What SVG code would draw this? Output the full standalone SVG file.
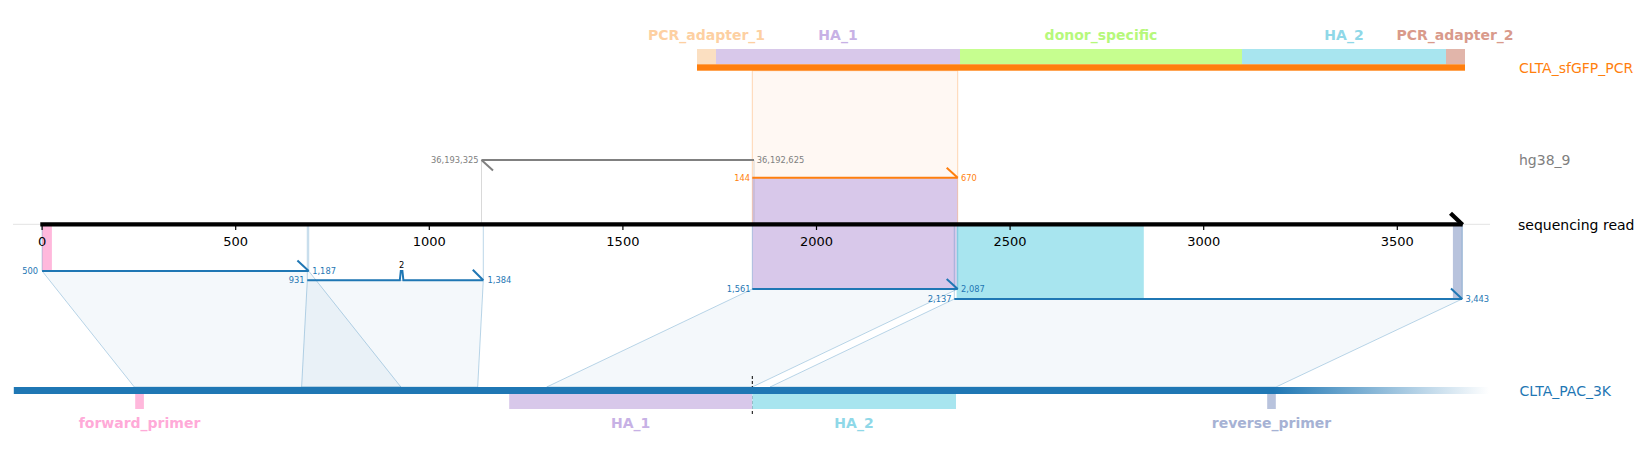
<svg xmlns="http://www.w3.org/2000/svg" width="1644" height="459" viewBox="0 0 1644 459">
<style>
text{font-family:"DejaVu Sans","Liberation Sans",sans-serif}
.lab{font-size:14px}
.feat{font-size:14px;font-weight:bold;text-anchor:middle}
.sm{font-size:8.3px}
.tick{font-size:13px;text-anchor:middle}
.end{text-anchor:end}
.blue{fill:#1f77b4}
.gray{fill:#808080}
.orange{fill:#ff7f0e}
.aln{fill:none;stroke-width:2}
.vb{stroke:#1f77b4;stroke-opacity:0.3;stroke-width:1}
.poly{fill:#1f77b4;fill-opacity:0.05;stroke:#1f77b4;stroke-opacity:0.3;stroke-width:1}
</style>
<defs>
<linearGradient id="fade" gradientUnits="userSpaceOnUse" x1="13.8" y1="0" x2="1489" y2="0">
<stop offset="0" stop-color="#1f77b4" stop-opacity="1"/>
<stop offset="0.854" stop-color="#1f77b4" stop-opacity="1"/>
<stop offset="1" stop-color="#1f77b4" stop-opacity="0"/>
</linearGradient>
</defs>
<rect width="1644" height="459" fill="#ffffff"/>

<!-- feature shading on read -->
<g id="read-features">
<rect x="752.3" y="70.7" width="205.4" height="107" fill="#ff7f0e" fill-opacity="0.05" stroke="#ff7f0e" stroke-opacity="0.3" stroke-width="1"/>
<rect x="752.3" y="177.7" width="205.4" height="111.3" fill="#d8c8ea"/>
<rect x="956.6" y="224" width="187.2" height="75" fill="#a8e5ef"/>
<rect x="42.1" y="224" width="9.8" height="47" fill="#ffb8dc"/>
<rect x="1452.9" y="224" width="9.7" height="75" fill="#b8c3dd"/>
</g>

<!-- connectors -->
<g id="connectors">
<polygon class="poly" points="42.1,271 308.7,271 400.9,387 134.3,387"/>
<polygon class="poly" points="307.3,280.3 483.3,280.3 477.7,387 301.6,387"/>
<polygon class="poly" points="752.3,289 957.7,289 752.3,387 546.7,387"/>
<polygon class="poly" points="954.3,299 1462.2,299 1276,387 770,387"/>
<line class="vb" x1="42.1" y1="224" x2="42.1" y2="271"/>
<line class="vb" x1="308.7" y1="224" x2="308.7" y2="271"/>
<line class="vb" x1="307.3" y1="224" x2="307.3" y2="280.3"/>
<line class="vb" x1="483.3" y1="224" x2="483.3" y2="280.3"/>
<line class="vb" x1="752.3" y1="224" x2="752.3" y2="289"/>
<line class="vb" x1="957.7" y1="224" x2="957.7" y2="289"/>
<line class="vb" x1="954.3" y1="224" x2="954.3" y2="299"/>
<line class="vb" x1="1462.2" y1="224" x2="1462.2" y2="299"/>
<line x1="481.5" y1="160" x2="481.5" y2="224" stroke="#808080" stroke-opacity="0.3" stroke-width="1"/>
<line x1="754" y1="160" x2="754" y2="224" stroke="#808080" stroke-opacity="0.3" stroke-width="1"/>
<line x1="752.3" y1="177.7" x2="752.3" y2="224" stroke="#ff7f0e" stroke-opacity="0.3" stroke-width="1"/>
<line x1="957.7" y1="177.7" x2="957.7" y2="224" stroke="#ff7f0e" stroke-opacity="0.3" stroke-width="1"/>
<line x1="752.3" y1="376" x2="752.3" y2="414" stroke="#000" stroke-width="1" stroke-dasharray="3,2"/>
</g>

<!-- sequencing read axis -->
<g id="sequencing-read">
<line x1="13" y1="224.3" x2="1490" y2="224.3" stroke="#e3e3e3" stroke-width="1"/>
<line x1="40.3" y1="224.3" x2="1462.6" y2="224.3" stroke="#000" stroke-width="4.3"/>
<line x1="1450.5" y1="213.2" x2="1462.6" y2="224.8" stroke="#000" stroke-width="4.3"/>
<g stroke="#000" stroke-width="1.2">
<line x1="42.1" y1="224" x2="42.1" y2="230"/>
<line x1="235.7" y1="224" x2="235.7" y2="230"/>
<line x1="429.3" y1="224" x2="429.3" y2="230"/>
<line x1="622.9" y1="224" x2="622.9" y2="230"/>
<line x1="816.5" y1="224" x2="816.5" y2="230"/>
<line x1="1010.1" y1="224" x2="1010.1" y2="230"/>
<line x1="1203.7" y1="224" x2="1203.7" y2="230"/>
<line x1="1397.3" y1="224" x2="1397.3" y2="230"/>
</g>
<text class="tick" x="42.1" y="246">0</text>
<text class="tick" x="235.7" y="246">500</text>
<text class="tick" x="429.3" y="246">1000</text>
<text class="tick" x="622.9" y="246">1500</text>
<text class="tick" x="816.5" y="246">2000</text>
<text class="tick" x="1010.1" y="246">2500</text>
<text class="tick" x="1203.7" y="246">3000</text>
<text class="tick" x="1397.3" y="246">3500</text>
<text class="lab" x="1518" y="229.5">sequencing read</text>
</g>

<!-- CLTA_sfGFP_PCR reference -->
<g id="CLTA_sfGFP_PCR">
<rect x="697" y="49" width="19" height="15.3" fill="#fbdfc1"/>
<rect x="716" y="49" width="244" height="15.3" fill="#d8c8ea"/>
<rect x="960" y="49" width="282" height="15.3" fill="#c6fe8f"/>
<rect x="1242" y="49" width="204" height="15.3" fill="#a8e5ef"/>
<rect x="1446" y="49" width="19" height="15.3" fill="#e1b5aa"/>
<rect x="697" y="64.3" width="768" height="6.4" fill="#ff7f0e"/>
<text class="feat" x="706.5" y="40" fill="#fdd0a2">PCR_adapter_1</text>
<text class="feat" x="838" y="40" fill="#c7b1e5">HA_1</text>
<text class="feat" x="1101" y="40" fill="#b6f87b">donor_specific</text>
<text class="feat" x="1344" y="40" fill="#8fd8e8">HA_2</text>
<text class="feat" x="1455" y="40" fill="#d99a8b">PCR_adapter_2</text>
<text class="lab orange" x="1519" y="72.5">CLTA_sfGFP_PCR</text>
</g>

<!-- hg38_9 alignment -->
<g id="hg38_9">
<line class="aln" x1="481.5" y1="160" x2="754" y2="160" stroke="#808080"/>
<line class="aln" x1="481.5" y1="160" x2="493" y2="170.5" stroke="#808080"/>
<text class="sm gray end" x="478.5" y="163">36,193,325</text>
<text class="sm gray" x="756.7" y="163">36,192,625</text>
<text class="lab gray" x="1519" y="165">hg38_9</text>
</g>

<!-- CLTA_sfGFP_PCR alignment -->
<g id="aln-pcr">
<line class="aln" x1="752.3" y1="177.7" x2="957.7" y2="177.7" stroke="#ff7f0e"/>
<line class="aln" x1="946.7" y1="167.7" x2="957.7" y2="177.7" stroke="#ff7f0e"/>
<text class="sm orange end" x="750" y="180.7">144</text>
<text class="sm orange" x="961" y="180.7">670</text>
</g>

<!-- CLTA_PAC_3K alignments -->
<g id="aln-pac-1">
<line class="aln" x1="42.1" y1="271" x2="308.7" y2="271" stroke="#1f77b4"/>
<line class="aln" x1="297.4" y1="260.5" x2="308.7" y2="271" stroke="#1f77b4"/>
<text class="sm blue end" x="38" y="274">500</text>
<text class="sm blue" x="312.2" y="274">1,187</text>
</g>
<g id="aln-pac-2">
<path class="aln" d="M307.3,280.3 H399.8 L400.8,271 H402.4 L403.4,280.3 H483.3" stroke="#1f77b4"/>
<line class="aln" x1="472.8" y1="269.8" x2="483.3" y2="280.3" stroke="#1f77b4"/>
<text class="sm end" x="304.5" y="283.3" fill="#1f77b4">931</text>
<text class="sm blue" x="487.5" y="283.3">1,384</text>
<text class="sm" x="401.6" y="268.3" text-anchor="middle" fill="#000">2</text>
</g>
<g id="aln-pac-3">
<line class="aln" x1="752.3" y1="289" x2="957.7" y2="289" stroke="#1f77b4"/>
<line class="aln" x1="946.7" y1="279" x2="957.7" y2="289" stroke="#1f77b4"/>
<text class="sm blue end" x="750.6" y="292">1,561</text>
<text class="sm blue" x="961" y="292">2,087</text>
</g>
<g id="aln-pac-4">
<line class="aln" x1="954.3" y1="299" x2="1462.2" y2="299" stroke="#1f77b4"/>
<line class="aln" x1="1451" y1="288.5" x2="1462.2" y2="299" stroke="#1f77b4"/>
<text class="sm blue end" x="951.6" y="302">2,137</text>
<text class="sm blue" x="1465.4" y="302">3,443</text>
</g>

<!-- CLTA_PAC_3K reference -->
<g id="CLTA_PAC_3K">
<rect x="13.8" y="387" width="1475.2" height="7" fill="url(#fade)"/>
<rect x="135.2" y="394" width="8.7" height="15" fill="#ffb8dc"/>
<rect x="509.2" y="394" width="243.1" height="15" fill="#d8c8ea"/>
<rect x="752.3" y="394" width="203.7" height="15" fill="#a8e5ef"/>
<rect x="1267.2" y="394" width="8.6" height="15" fill="#b8c3dd"/>
<text class="feat" x="139.5" y="428" fill="#ffaad8">forward_primer</text>
<text class="feat" x="630.7" y="428" fill="#c7b1e5">HA_1</text>
<text class="feat" x="854" y="428" fill="#8fd8e8">HA_2</text>
<text class="feat" x="1271.5" y="428" fill="#a6b2d4">reverse_primer</text>
<text class="lab blue" x="1519.6" y="396">CLTA_PAC_3K</text>
</g>
</svg>
